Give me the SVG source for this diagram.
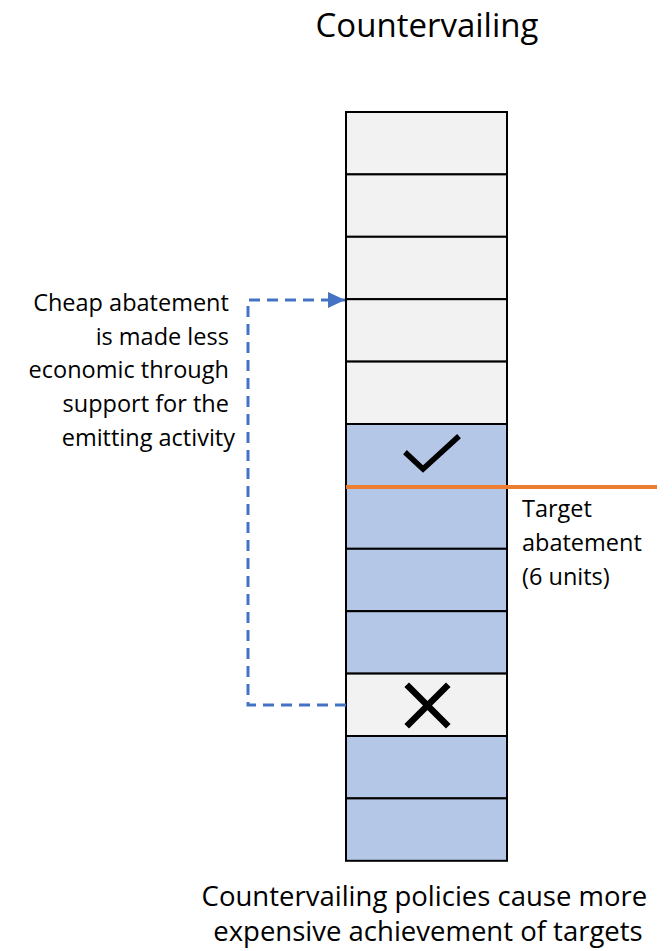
<svg xmlns="http://www.w3.org/2000/svg" width="672" height="951" viewBox="0 0 672 951">
<style>
.t{font-family:"Open Sans","Liberation Sans",sans-serif;fill:#000}
.g{fill:#F2F2F2;stroke:#000;stroke-width:2}
.b{fill:#B4C7E7;stroke:#000;stroke-width:2}
.mk{fill:none;stroke:#000;stroke-linecap:square}
</style>
<defs>
<marker id="ah" markerWidth="17" markerHeight="16" refX="17" refY="8" orient="auto" markerUnits="userSpaceOnUse">
<path d="M0,0 L17,8 L0,16 Z" fill="#4472C4"/>
</marker>
</defs>
<rect width="672" height="951" fill="#fff"/>
<text class="t" x="427" y="37" font-size="33" text-anchor="middle">Countervailing</text>
<g id="stack">
<rect id="c1" class="g" x="346" y="112" width="161" height="62.4"/>
<rect id="c2" class="g" x="346" y="174.4" width="161" height="62.4"/>
<rect id="c3" class="g" x="346" y="236.8" width="161" height="62.4"/>
<rect id="c4" class="g" x="346" y="299.2" width="161" height="62.4"/>
<rect id="c5" class="g" x="346" y="361.6" width="161" height="62.4"/>
<rect id="c6" class="b" x="346" y="424" width="161" height="62.4"/>
<rect id="c7" class="b" x="346" y="486.4" width="161" height="62.4"/>
<rect id="c8" class="b" x="346" y="548.8" width="161" height="62.4"/>
<rect id="c9" class="b" x="346" y="611.2" width="161" height="62.4"/>
<rect id="c10" class="g" x="346" y="673.6" width="161" height="62.4"/>
<rect id="c11" class="b" x="346" y="736" width="161" height="62.4"/>
<rect id="c12" class="b" x="346" y="798.4" width="161" height="62.4"/>
</g>
<g id="check"><path class="mk" d="M407,454 L423,469 L457,438" stroke-width="5.5"/></g>
<g id="cross"><path class="mk" d="M409,687 L446,724 M446,687 L409,724" stroke-width="6.5"/></g>
<g id="target">
<line x1="346" y1="487" x2="657" y2="487" stroke="#ED7D31" stroke-width="4"/>
<text class="t" font-size="23.5" x="522">
<tspan x="522" y="517">Target</tspan>
<tspan x="522" y="551">abatement</tspan>
<tspan x="522" y="585">(6 units)</tspan>
</text>
</g>
<g id="connectors">
<path d="M346,705 L248,705 L248,300 L345,300" fill="none" stroke="#4472C4" stroke-width="3" stroke-dasharray="11,7" marker-end="url(#ah)"/>
</g>
<g id="note">
<text class="t" font-size="23.5" text-anchor="end">
<tspan x="235" y="311">Cheap abatement</tspan>
<tspan x="235" y="345">is made less</tspan>
<tspan x="235" y="378">economic through</tspan>
<tspan x="235" y="412">support for the</tspan>
<tspan x="235" y="446">emitting activity</tspan>
</text>
</g>
<text class="t" font-size="27.5" text-anchor="middle">
<tspan x="428" y="906">Countervailing policies cause more</tspan>
<tspan x="428" y="941">expensive achievement of targets</tspan>
</text>
</svg>
